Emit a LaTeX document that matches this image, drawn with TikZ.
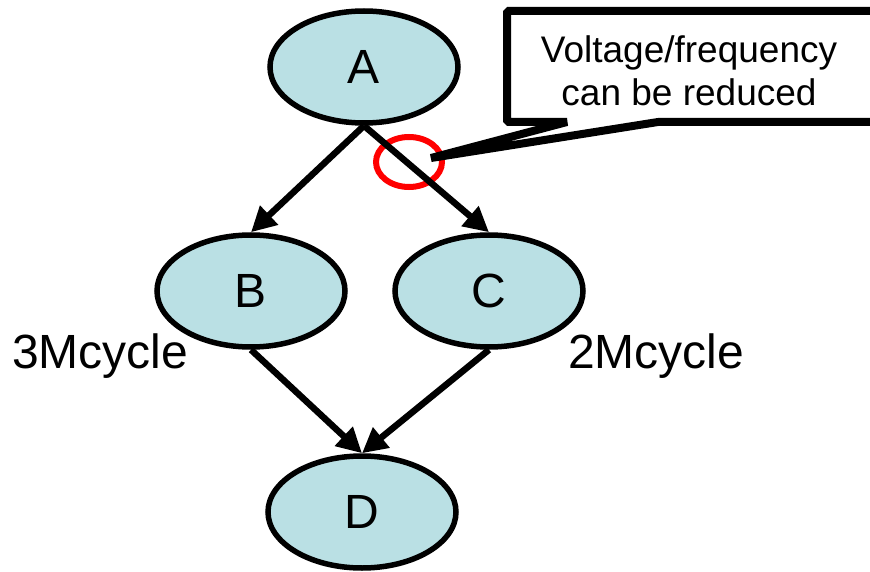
\documentclass[tikz,border=0pt]{standalone}
\usepackage{fontspec}
\setmainfont{Liberation Sans}
\usetikzlibrary{shapes.geometric,arrows.meta}
\definecolor{taskfill}{RGB}{186,224,228}
\tikzset{
  task/.style={ellipse, draw=black, line width=5.5pt, fill=taskfill,
    minimum width=188pt, minimum height=112pt, inner sep=0pt,
    font=\fontsize{48}{56}\selectfont},
  edge/.style={line width=6.5pt, -{Triangle[length=25pt,width=25pt]}},
  cyclelabel/.style={anchor=base west, inner sep=0pt, font=\fontsize{48}{56}\selectfont},
  callout/.style={draw=black, fill=white, line width=8pt, line join=bevel},
  mark ring/.style={draw=red, line width=6pt}
}
\begin{document}
\begin{tikzpicture}[x=1pt,y=-1pt]
  \useasboundingbox (0,0) rectangle (870,572);
  \clip (0,0) rectangle (870,572);

  % task graph
  \node[task] (A) at (364,67)  {A};
  \node[task] (B) at (251,291) {B};
  \node[task] (C) at (489,291) {C};
  \node[task] (D) at (362,512) {D};

  % highlighted edge
  \draw[mark ring] (409,162) ellipse [x radius=33, y radius=25];

  \draw[edge] (A.south) -- (B.north);
  \draw[edge] (A.south) -- (C.north);
  \draw[edge] (B.south) -- (D.north);
  \draw[edge] (C.south) -- (D.north);

  % cycle counts
  \node[cyclelabel] (cb) at (12,368)  {3Mcycle};
  \node[cyclelabel] (cc) at (568,368) {2Mcycle};

  % speech-bubble note pointing at the slack edge
  \coordinate (tip) at (431,158);
  \draw[callout] (507,11) -- (885,11) -- (885,122) -- (658,122) -- (tip)
    -- (567,122) -- (507,122) -- cycle;
  \node[align=center, inner sep=0pt, font=\fontsize{37}{43}\selectfont]
    (note) at (689,71) {Voltage/frequency\\can be reduced};
\end{tikzpicture}
\end{document}
